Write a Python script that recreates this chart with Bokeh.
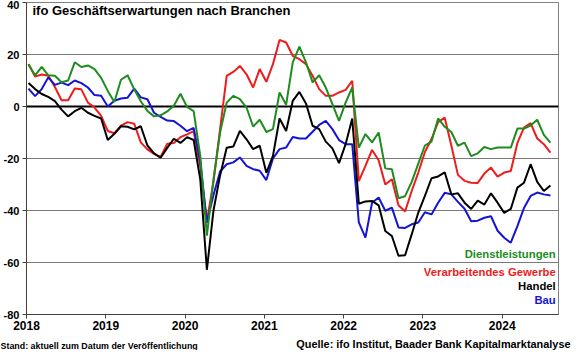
import numpy as np
import pandas as pd
from bokeh.plotting import figure
from bokeh.layouts import column, row
from bokeh.models import Span, Label, FixedTicker, Range1d, ColumnDataSource
from bokeh.embed import file_html
from bokeh.resources import INLINE

months = pd.date_range("2018-01-01", periods=80, freq="MS")

dienstleistungen = [16.2, 12, 15.2, 12, 11.8, 9.3, 10, 17, 15.2, 15.8, 14.4, 11, 6, 1.7, 10.3, 12, 6.6, 2, -1.7, -3.8,
                    -3.4, -1.9, 0.3, 4.9, -0.2, -1.8, -19, -49.7, -28, -10, 1.5, 4.1, 2.8, -0.4, -7.7, -5.1, -9.8, -8.7, 5.4, 0.7,
                    17, 23, 17, 9.3, 12, 7.3, 0.9, -5.5, 1.5, 7.3, -15.8, -10.6, -13.8, -10, -23.8, -24.1, -35.3, -34.5, -29, -22,
                    -15, -13.5, -4.6, -7.8, -9.8, -15.1, -13.9, -19.1, -18, -15.6, -16.4, -15.8, -15.8, -15.8, -8.5, -8.5, -7.3, -5.1, -10.9, -13.9]
verarbeitendes = [16.3, 11.5, 12.3, 11.8, 7.5, 2.4, 2.4, 6.9, 6.6, 1.5, -0.4, -3.6, -9.4, -10.3, -7.4, -6, -6.6, -13.8, -16.5, -18.2,
                  -19.4, -14.3, -14, -11.8, -10.7, -9.5, -23, -44, -29, -8.7, 11.8, 13.3, 15.6, 12.4, 7.3, 14.4, 9.5, 16.3, 25.6, 24.6,
                  19.5, 18.2, 16.3, 11.8, 6.7, 4.1, 4.1, 5.4, 6.4, 9.9, -28.7, -22.8, -16.7, -20.7, -30, -28, -38, -40.4, -32.5, -25.4,
                  -17.5, -12.5, -6, -4.3, -15, -26.3, -28.6, -29.3, -29.4, -25.8, -23.5, -27, -25.4, -24.8, -14, -8.1, -6.4, -12.3, -14.5, -17.7]
handel = [9, 6.7, 4.8, 3.7, 2.1, -1.2, -3.8, -1.8, -0.5, -2.4, -3.6, -4.6, -12.9, -10.5, -7.6, -7.8, -8.8, -7.6, -15, -18,
          -19.7, -15.9, -12.4, -14, -11.8, -12.9, -28, -62.8, -40, -26.5, -15.9, -15.4, -9.4, -12.6, -16.4, -15.1, -25.5, -19, -4.6, -9.4,
          2.2, 5.6, 1.2, -7.4, -8.7, -13.5, -16.1, -21.8, -14.5, -4.6, -37.4, -36.5, -36.3, -38, -47.9, -49.8, -57.4, -57.2, -49.2, -40.8,
          -34.4, -27.6, -26.9, -25.3, -33.8, -33.4, -37, -39.4, -36.2, -37.7, -33.4, -37, -40.9, -39.4, -31.2, -29.3, -22.2, -29, -32.5, -30.4]
bau = [6.9, 4, 6.7, 11.2, 8.3, 9.2, 8.2, 10, 9, 7.3, 4.4, 4.1, 0, 2.2, 3.1, 3.4, 6.9, 3.5, 2.8, -2.4,
       -4, -5.4, -5.6, -7.4, -9.5, -8.2, -21, -44.7, -34, -25, -22.2, -21.5, -19.6, -22.8, -24.1, -24.7, -28.3, -20, -16.4, -15.8,
       -11.7, -12.3, -12.3, -9.7, -7.1, -5.5, -8.7, -12.9, -14.5, -14.5, -44.6, -50.4, -37, -35, -40.1, -38.9, -46.5, -46.7, -45.3, -44.6,
       -40.7, -41.5, -37, -33.2, -33.8, -36.7, -39.3, -44.1, -43.9, -42.8, -42.2, -47.8, -50.5, -52.4, -46, -39, -34.4, -33.1, -33.8, -34.2]

year_ticks = [2018, 2019, 2020, 2021, 2022, 2023, 2024]
y_ticks = [-80, -60, -40, -20, 0, 20, 40]

title_text = "ifo Geschäftserwartungen nach Branchen"
series_names = ["Dienstleistungen", "Verarbeitendes Gewerbe", "Handel", "Bau"]
stand_text = "Stand: aktuell zum Datum der Veröffentlichung"
quelle_text = "Quelle: ifo Institut, Baader Bank Kapitalmarktanalyse"

GREEN = "#1E8C1E"
RED = "#EE1C1C"
BLACK = "#000000"
BLUE = "#1414D2"
FONT = "Liberation Sans"

x = months.year + (months.month - 1 + 0.3) / 12.0
src = ColumnDataSource(dict(x=x, d=dienstleistungen, v=verarbeitendes, h=handel, b=bau))

p = figure(width=572, height=336, x_range=Range1d(2018, 2024.71), y_range=Range1d(-80, 40),
           output_backend="svg", toolbar_location=None,
           min_border_left=21, min_border_right=14, min_border_top=2, min_border_bottom=22)
p.background_fill_color = "white"
p.border_fill_color = "white"
p.outline_line_color = "#808080"
p.outline_line_width = 1

p.xgrid.visible = False
p.ygrid.ticker = FixedTicker(ticks=y_ticks)
p.ygrid.grid_line_color = "#7A7A7A"
p.ygrid.grid_line_width = 1

p.yaxis.ticker = FixedTicker(ticks=y_ticks)
p.yaxis.major_label_overrides = {t: str(t) for t in y_ticks}
p.xaxis.ticker = FixedTicker(ticks=year_ticks)
p.xaxis.major_label_overrides = {t: str(t) for t in year_ticks}
for ax in (p.xaxis, p.yaxis):
    ax.axis_line_color = "#404040"
    ax.axis_line_width = 1
    ax.major_tick_line_color = "#404040"
    ax.major_tick_out = 4
    ax.major_tick_in = 0
    ax.minor_tick_line_color = None
    ax.major_label_text_font = FONT
    ax.major_label_text_font_style = "bold"
    ax.major_label_text_color = "black"
p.yaxis.major_label_text_font_size = "11px"
p.yaxis.major_label_standoff = 3
p.xaxis.major_label_text_font_size = "12px"
p.xaxis.major_label_standoff = 2

p.add_layout(Span(location=0, dimension="width", line_color="black", line_width=2, level="underlay"))

p.line("x", "v", source=src, line_color=RED, line_width=2)
p.line("x", "b", source=src, line_color=BLUE, line_width=2)
p.line("x", "d", source=src, line_color=GREEN, line_width=2)
p.line("x", "h", source=src, line_color=BLACK, line_width=2)

p.add_layout(Label(x=2018.075, y=36.8, text=title_text, text_font=FONT, text_font_style="bold",
                   text_font_size="13px", text_baseline="middle", text_color="black"))

leg_colors = [GREEN, RED, BLACK, BLUE]
leg_y = [-56.8, -63.6, -69.0, -74.3]
for name, c, yy in zip(series_names, leg_colors, leg_y):
    p.add_layout(Label(x=2024.675, y=yy, text=name, text_font=FONT, text_font_style="bold",
                       text_font_size="11.3px", text_align="right", text_baseline="middle", text_color=c))

# footer strip (no axes); keep its frame independent from the main frame
f = figure(width=572, height=14, x_range=Range1d(0, 572), y_range=Range1d(0, 14),
           output_backend="svg", toolbar_location=None,
           x_axis_location=None, y_axis_location=None,
           min_border_left=0, min_border_right=0, min_border_top=0, min_border_bottom=0)
if hasattr(f, "frame_align"):
    try:
        f.frame_align = False
        p.frame_align = False
    except Exception:
        pass
f.grid.visible = False
f.outline_line_color = None
f.background_fill_color = "white"
f.border_fill_color = "white"
f.add_layout(Label(x=0, y=5, text=stand_text, text_font=FONT, text_font_style="bold",
                   text_font_size="8.9px", text_baseline="middle", text_color="black"))
f.add_layout(Label(x=570, y=7, text=quelle_text, text_font=FONT, text_font_style="bold",
                   text_font_size="10.9px", text_align="right", text_baseline="middle", text_color="black"))

layout = column(p, row(f, spacing=0), spacing=0)
open("out.html", "w").write(file_html(layout, INLINE))
